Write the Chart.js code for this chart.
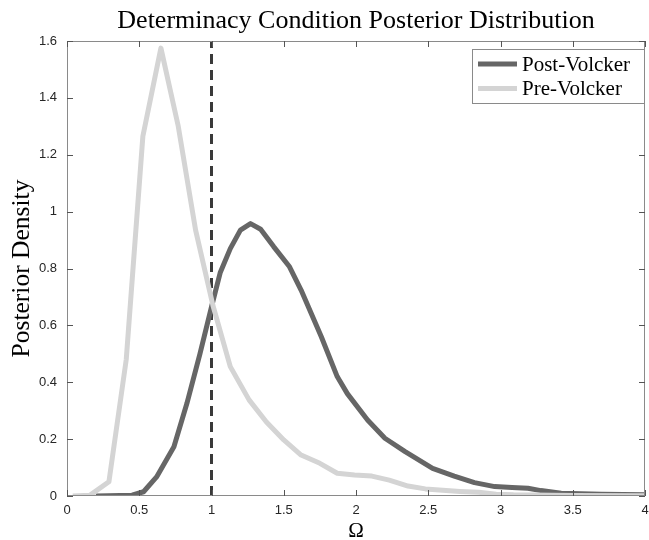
<!DOCTYPE html>
<html>
<head>
<meta charset="utf-8">
<script src="https://cdn.jsdelivr.net/npm/chart.js@4.4.1/dist/chart.umd.min.js"></script>
<style>
  html, body { margin: 0; padding: 0; background: #fff; }
  #wrap { width: 649px; height: 540px; }
</style>
</head>
<body>
<div id="wrap"><canvas id="posteriorChart" width="649" height="540"></canvas></div>
<script>
const chartTitle = 'Determinacy Condition Posterior Distribution';
const xLabel = 'Ω';
const yLabel = 'Posterior Density';
const seriesNames = ['Post-Volcker', 'Pre-Volcker'];

const postX = [0.2, 0.45, 0.53, 0.62, 0.74, 0.83, 0.92, 1.0, 1.06, 1.13, 1.2, 1.27, 1.34, 1.43, 1.54, 1.62,
  1.76, 1.87, 1.94, 2.08, 2.2, 2.34, 2.53, 2.68, 2.82, 2.96, 3.08, 3.19, 3.28, 3.42, 3.7, 4.0];
const postY = [0, 0.003, 0.015, 0.067, 0.173, 0.326, 0.5, 0.665, 0.785, 0.87, 0.935, 0.958, 0.938, 0.877, 0.806, 0.724,
  0.56, 0.42, 0.36, 0.267, 0.203, 0.156, 0.097, 0.07, 0.047, 0.033, 0.03, 0.027, 0.019, 0.01, 0.006, 0.004];

const preX = [0.04, 0.16, 0.29, 0.41, 0.525, 0.65, 0.77, 0.89, 1.01, 1.13, 1.26, 1.38, 1.5, 1.62, 1.75, 1.87,
  1.99, 2.11, 2.23, 2.36, 2.48, 2.6, 2.72, 2.85, 2.97, 3.09, 3.5, 4.0];
const preY = [0, 0.003, 0.05, 0.48, 1.265, 1.575, 1.3, 0.935, 0.67, 0.455, 0.338, 0.26, 0.197, 0.144, 0.115, 0.08,
  0.074, 0.07, 0.056, 0.035, 0.025, 0.02, 0.016, 0.013, 0.006, 0.004, 0.002, 0.001];

const thresholdX = [1, 1];
const thresholdY = [0, 1.6];

const xTicks = [0, 0.5, 1, 1.5, 2, 2.5, 3, 3.5, 4];
const yTicks = [0, 0.2, 0.4, 0.6, 0.8, 1, 1.2, 1.4, 1.6];

function toPoints(xs, ys) {
  return xs.map((x, i) => ({ x: x, y: ys[i] }));
}

const serif = '"Liberation Serif", "DejaVu Serif", serif';
const sans = '"Liberation Sans", Arial, sans-serif';

// Box, inward ticks, titles and legend, drawn the MATLAB way
const matlabFrame = {
  id: 'matlabFrame',
  afterDraw(chart) {
    const ctx = chart.ctx;
    const a = chart.chartArea;
    const xs = chart.scales.x;
    const ys = chart.scales.y;
    ctx.save();

    // box
    ctx.strokeStyle = '#8a8a8a';
    ctx.lineWidth = 1;
    ctx.strokeRect(a.left + 0.5, a.top + 0.5, a.right - a.left - 1, a.bottom - a.top - 1);

    // inward ticks
    ctx.strokeStyle = '#555';
    ctx.beginPath();
    xTicks.forEach(v => {
      const px = Math.round(xs.getPixelForValue(v)) + 0.5;
      ctx.moveTo(px, a.bottom); ctx.lineTo(px, a.bottom - 6);
      ctx.moveTo(px, a.top); ctx.lineTo(px, a.top + 6);
    });
    yTicks.forEach(v => {
      const py = Math.round(ys.getPixelForValue(v)) + 0.5;
      ctx.moveTo(a.left, py); ctx.lineTo(a.left + 6, py);
      ctx.moveTo(a.right, py); ctx.lineTo(a.right - 6, py);
    });
    ctx.stroke();

    // title
    const cx = (a.left + a.right) / 2;
    ctx.fillStyle = '#000';
    ctx.textAlign = 'center';
    ctx.textBaseline = 'alphabetic';
    ctx.font = '26px ' + serif;
    ctx.fillText(chartTitle, cx, 28);

    // axis labels
    ctx.font = '21px ' + serif;
    ctx.fillText(xLabel, cx, 537);
    ctx.save();
    ctx.translate(22, (a.top + a.bottom) / 2);
    ctx.rotate(-Math.PI / 2);
    ctx.textBaseline = 'middle';
    ctx.font = '25.5px ' + serif;
    ctx.fillText(yLabel, 0, 0);
    ctx.restore();

    // legend
    const lx = 472, ly = 49, lw = a.right - 472, lh = 55;
    ctx.fillStyle = '#fff';
    ctx.fillRect(lx, ly, lw, lh);
    ctx.strokeStyle = '#8a8a8a';
    ctx.lineWidth = 1;
    ctx.strokeRect(lx + 0.5, ly + 0.5, lw - 1, lh - 1);
    ctx.textAlign = 'left';
    ctx.textBaseline = 'middle';
    ctx.font = '21px ' + serif;
    seriesNames.forEach((name, i) => {
      const d = chart.data.datasets.find(ds => ds.label === name);
      const y = 64 + i * 24.5;
      ctx.strokeStyle = d.borderColor;
      ctx.lineWidth = 5;
      ctx.beginPath();
      ctx.moveTo(478, y); ctx.lineTo(517, y);
      ctx.stroke();
      ctx.fillStyle = '#000';
      ctx.fillText(name, 522, y + 1);
    });
    ctx.restore();
  }
};

new Chart(
  document.getElementById('posteriorChart'),
  {
    type: 'line',
    data: {
      datasets: [
        {
          label: seriesNames[1],
          data: toPoints(preX, preY),
          borderColor: '#d4d4d4',
          borderWidth: 5,
          pointRadius: 0,
          borderJoinStyle: 'round',
          tension: 0,
          clip: 0,
          order: 0
        },
        {
          label: seriesNames[0],
          data: toPoints(postX, postY),
          borderColor: '#666666',
          borderWidth: 5,
          pointRadius: 0,
          borderJoinStyle: 'round',
          tension: 0,
          clip: 0,
          order: 1
        },
        {
          label: 'threshold',
          data: toPoints(thresholdX, thresholdY),
          borderColor: '#3a3a3a',
          borderWidth: 3,
          borderDash: [10, 6],
          pointRadius: 0,
          clip: 0,
          order: 2
        }
      ]
    },
    options: {
      responsive: false,
      animation: false,
      layout: {
        padding: { top: 41, right: 4, left: 0, bottom: 0 }
      },
      scales: {
        x: {
          type: 'linear',
          min: 0,
          max: 4,
          afterFit: s => { s.height = 44; s.paddingLeft = 0; s.paddingRight = 0; },
          afterBuildTicks: s => { s.ticks = xTicks.map(v => ({ value: v })); },
          grid: { display: false, drawTicks: false },
          border: { display: false },
          ticks: {
            padding: 7,
            color: '#262626',
            font: { family: sans, size: 13 },
            callback: v => String(v)
          }
        },
        y: {
          type: 'linear',
          min: 0,
          max: 1.6,
          afterFit: s => { s.width = 67; s.paddingTop = 0; s.paddingBottom = 0; },
          afterBuildTicks: s => { s.ticks = yTicks.map(v => ({ value: v })); },
          grid: { display: false, drawTicks: false },
          border: { display: false },
          ticks: {
            padding: 10,
            color: '#262626',
            font: { family: sans, size: 13 },
            callback: v => String(v)
          }
        }
      },
      plugins: {
        legend: { display: false },
        tooltip: { enabled: false },
        title: { display: false }
      }
    },
    plugins: [matlabFrame]
  }
);
</script>
</body>
</html>
